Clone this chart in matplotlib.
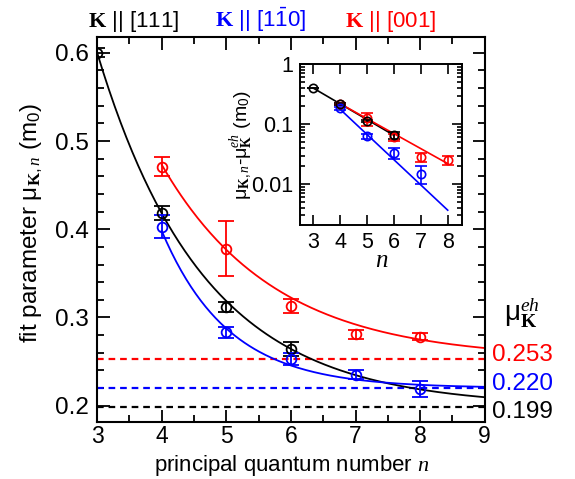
import numpy as np
import matplotlib
matplotlib.use("Agg")
from matplotlib import pyplot as plt
from matplotlib.ticker import MultipleLocator, LogLocator, NullFormatter, FixedLocator, FixedFormatter

plt.rcParams['font.family'] = 'Liberation Sans'
plt.rcParams['mathtext.fontset'] = 'custom'
plt.rcParams['mathtext.rm'] = 'Liberation Sans'
plt.rcParams['mathtext.sf'] = 'Liberation Sans'
plt.rcParams['mathtext.it'] = 'Liberation Serif:italic'
plt.rcParams['mathtext.bf'] = 'Liberation Serif:bold'

# measured fit parameters mu_K,n (m0) for three K directions
n_111 = [3, 4, 5, 6]
mu_111 = [0.600, 0.418, 0.312, 0.264]
err_111 = [0.005, 0.008, 0.006, 0.008]

n_110 = [4, 5, 6, 7, 8]
mu_110 = [0.403, 0.283, 0.253, 0.235, 0.219]
err_110 = [0.013, 0.006, 0.007, 0.005, 0.009]

n_001 = [4, 5, 6, 7, 8]
mu_001 = [0.471, 0.378, 0.313, 0.281, 0.278]
err_001 = [0.011, 0.031, 0.008, 0.005, 0.004]

# limits mu_K^eh and exponential fit: mu = eh + amp*exp(-rate*(n-n_start))
eh = {'111': 0.199, '110': 0.220, '001': 0.253}
eh_labels = ['0.199', '0.220', '0.253']
fit_amp = {'111': 0.401, '110': 0.178, '001': 0.220}
fit_rate = {'111': 0.605, '110': 0.97, '001': 0.576}
fit_start = {'111': 3, '110': 4, '001': 4}
fit_end_inset = {'111': 6, '110': 8, '001': 8}

colors = {'111': 'black', '110': '#0000ff', '001': '#ff0000'}
series = {'111': (n_111, mu_111, err_111),
          '110': (n_110, mu_110, err_110),
          '001': (n_001, mu_001, err_001)}

fig = plt.figure(figsize=(5.75, 4.79), dpi=100)
ax = fig.add_axes([0.169, 0.118, 0.674, 0.805])

def fitcurve(key, n):
    return fit_amp[key] * np.exp(-fit_rate[key] * (n - fit_start[key]))

# dashed limits
for key in ['001', '110', '111']:
    ax.axhline(eh[key], color=colors[key], ls=(0, (3, 2.2)), lw=1.6)

for key in ['111', '110', '001']:
    nn = np.linspace(fit_start[key], 9, 200)
    ax.plot(nn, eh[key] + fitcurve(key, nn), color=colors[key], lw=1.3)
    x, y, e = series[key]
    ax.errorbar(x, y, yerr=e, fmt='o', ms=7, mfc='none', mec=colors[key], mew=1.3,
                ecolor=colors[key], elinewidth=1.3, capsize=5.5, capthick=1.3)

ax.set_xlim(3, 9)
ax.set_ylim(0.181, 0.618)
ax.xaxis.set_major_locator(MultipleLocator(1))
ax.xaxis.set_minor_locator(MultipleLocator(0.5))
ax.yaxis.set_major_locator(MultipleLocator(0.1))
ax.yaxis.set_minor_locator(MultipleLocator(0.02))
ax.yaxis.set_major_formatter(matplotlib.ticker.FormatStrFormatter('%.1f'))
ax.tick_params(which='both', direction='in', top=True, right=True, width=1.3)
ax.tick_params(which='major', length=9, labelsize=17.5)
ax.tick_params(which='minor', length=5)
ax.tick_params(axis='x', pad=2, labelsize=16.5)
ax.tick_params(axis='y', pad=6)
for s in ax.spines.values():
    s.set_linewidth(1.5)

# labels of the limits on the right
trans = matplotlib.transforms.blended_transform_factory(ax.transAxes, ax.transData)
ax.text(1.02, eh['001'] + 0.004, eh_labels[2], color=colors['001'], fontsize=17.5,
        va='center', ha='left', transform=trans)
ax.text(1.02, eh['110'] + 0.005, eh_labels[1], color=colors['110'], fontsize=17.5,
        va='center', ha='left', transform=trans)
ax.text(1.02, eh['111'] - 0.006, eh_labels[0], color=colors['111'], fontsize=17.5,
        va='center', ha='left', transform=trans)
ax.text(1.095, 0.305, r'$\mathrm{\mu}^{eh}_{\mathbf{K}}$', fontsize=20,
        va='center', ha='center', transform=trans)

fig.text(0.507, 0.002, r'principal quantum number $n$', fontsize=16, ha='center', va='bottom')
fig.text(0.055, 0.535, r'fit parameter μ$_{\mathbf{K},n}$ (m$_0$)', fontsize=17.5,
         rotation=90, ha='center', va='center')

fig.text(0.153, 0.944, r'$\mathbf{K}$ || [111]', fontsize=16, color=colors['111'], va='baseline')
fig.text(0.374, 0.944, r'$\mathbf{K}$ || [1$\bar{1}$0]', fontsize=16, color=colors['110'], va='baseline')
fig.text(0.600, 0.944, r'$\mathbf{K}$ || [001]', fontsize=16, color=colors['001'], va='baseline')

# inset: mu - mu_eh on log scale
ins = fig.add_axes([0.522, 0.530, 0.281, 0.336])
for key in ['111', '110', '001']:
    nn = np.linspace(fit_start[key], fit_end_inset[key], 50)
    ins.plot(nn, fitcurve(key, nn), color=colors[key], lw=1.2)
for key in ['001', '110', '111']:
    x, y, e = series[key]
    d = np.array(y) - eh[key]
    keep = d > 0
    ins.errorbar(np.array(x)[keep], d[keep], yerr=np.array(e)[keep], fmt='o', ms=6,
                 mfc='none', mec=colors[key], mew=1.2, ecolor=colors[key],
                 elinewidth=1.2, capsize=4, capthick=1.2)
ins.set_yscale('log')
ins.set_xlim(2.52, 8.52)
ins.set_ylim(0.00207, 1)
ins.xaxis.set_major_locator(MultipleLocator(1))
ins.yaxis.set_major_locator(FixedLocator([0.01, 0.1, 1]))
ins.yaxis.set_major_formatter(FixedFormatter(['0.01', '0.1', '1']))
ins.yaxis.set_minor_locator(LogLocator(subs=np.arange(2, 10)))
ins.yaxis.set_minor_formatter(NullFormatter())
ins.tick_params(which='both', direction='in', top=True, right=True, width=1.2)
ins.tick_params(which='major', length=7, labelsize=15.5, pad=5)
ins.tick_params(which='minor', length=3.5)
for s in ins.spines.values():
    s.set_linewidth(1.4)
fig.text(0.664, 0.457, r'$n$', fontsize=18, ha='center', va='center')
fig.text(0.421, 0.697, r'μ$_{\mathbf{K},n}$-μ$_{\mathbf{K}}^{eh}$ (m$_0$)', fontsize=14,
         rotation=90, ha='center', va='center')

fig.savefig('out.png', dpi=100)
